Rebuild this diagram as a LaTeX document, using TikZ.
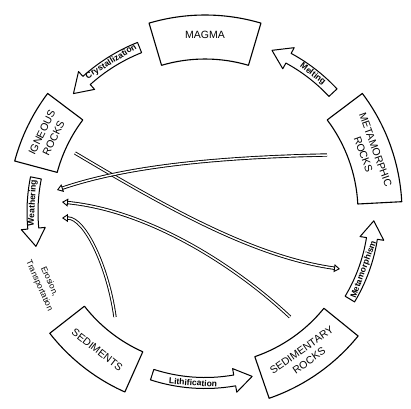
\documentclass[tikz,border=0pt]{standalone}
\usepackage{fontspec}
\setmainfont{Liberation Sans}
\usetikzlibrary{arrows.meta}
\newcommand{\Rin}{153}
\newcommand{\Rout}{197}
\newcommand{\RockBox}[2]{% centre angle, half span
  \draw[rockbox] ({#1-#2}:\Rin) arc[start angle={#1-#2}, end angle={#1+#2}, radius=\Rin]
    -- ({#1+#2}:\Rout) arc[start angle={#1+#2}, end angle={#1-#2}, radius=\Rout] -- cycle;}
\newcommand{\CycleArrow}[3]{% from angle, to angle, radius
  \draw[cyclearrow] ({#1}:{#3+5.5}) arc[start angle={#1}, end angle={#2-6}, radius={#3+5.5}]
    -- ({#2-6}:{#3+12}) -- ({#2}:{#3}) -- ({#2-6}:{#3-12})
    -- ({#2-6}:{#3-5.5}) arc[start angle={#2-6}, end angle={#1}, radius={#3-5.5}] -- cycle;}

\begin{document}
\begin{tikzpicture}[x=1pt, y=1pt,
  rockbox/.style={draw, line width=1.1pt, line join=round},
  cyclearrow/.style={draw, line width=1pt, line join=round, fill=white},
  rocklabel/.style={font=\fontsize{10.5}{13}\selectfont, align=center, inner sep=0pt},
  steplabel/.style={font=\bfseries\fontsize{8.5}{9}\selectfont, inner sep=0pt},
  shortcut/.style={double, double distance=1.5pt, line width=0.9pt, -{Triangle[open, length=6pt, width=8pt]}}]
\useasboundingbox (-205,-196) rectangle (206,212);

% Rock boxes
\RockBox{90}{16.5}
\RockBox{154}{11}
\RockBox{232}{14}
\RockBox{305}{16}
\RockBox{20}{17}

\node[rocklabel]             (magma)  at (90:177)  {MAGMA};
\node[rocklabel, rotate=64]  (ign)    at (154:175) {IGNEOUS\\ROCKS};
\node[rocklabel, rotate=-38] (sed)    at (232:175) {SEDIMENTS};
\node[rocklabel, rotate=35]  (sedr)   at (305:175) {SEDIMENTARY\\ROCKS};
\node[rocklabel, rotate=-70] (meta)   at (20:175)  {METAMORPHIC\\ROCKS};

% Cycle arrows
\CycleArrow{111.7}{138}{177}
\CycleArrow{168.6}{191.5}{172.5}
\CycleArrow{252}{286}{171}
\CycleArrow{-31}{-3}{169}
\CycleArrow{43}{67.5}{175}

\node[steplabel, rotate=32]  (cryst)  at (122:177)   {Crystallization};
\node[steplabel, rotate=87]  (weath)  at (177:172.5) {Weathering};
\node[steplabel, rotate=-4]  (lith)   at (266:171)   {Lithification};
\node[steplabel, rotate=70]  (metam)  at (-20:169)   {Metamorphism};
\node[steplabel, rotate=-38] (melt)   at (52:175)    {Melting};
\node[font=\fontsize{8.5}{11}\selectfont, align=center, inner sep=0pt, rotate=-66]
                             (eros)   at (204:176)   {Erosion,\\Transportation};

% Shortcuts through the cycle
\coordinate (ign-out)  at (-130,59);
\coordinate (meta-in)  at (135,-57);
\coordinate (meta-out) at (122,57);
\coordinate (ign-in1)  at (-148,22);
\coordinate (sedr-out) at (85,-105);
\coordinate (ign-in2)  at (-143,10);
\coordinate (sed-out)  at (-90,-105);
\coordinate (ign-in3)  at (-143,-6);

\draw[shortcut] (ign-out)  .. controls (-44,8) and (46,-44.5) .. (meta-in);
\draw[shortcut] (meta-out) .. controls (22,55) and (-75,47) .. (ign-in1);
\draw[shortcut] (sedr-out) .. controls (34,-57) and (-53,1) .. (ign-in2);
\draw[shortcut] (sed-out)  .. controls (-97,-55) and (-120,-6) .. (ign-in3);
\end{tikzpicture}
\end{document}
